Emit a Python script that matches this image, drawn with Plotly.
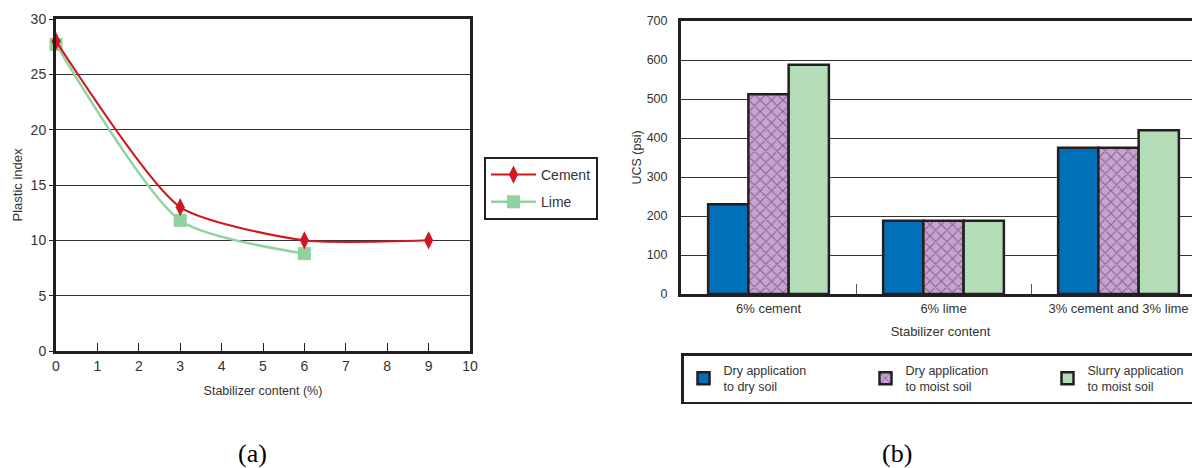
import plotly.graph_objects as go

# ---- (a) Plastic index vs stabilizer content ----
cement_x = [0, 3, 6, 9]
cement_pi = [28, 13, 10, 10]
lime_x = [0, 3, 6]
lime_pi = [27.7, 11.8, 8.8]

# ---- (b) UCS by stabilizer content ----
categories = ["6% cement", "6% lime", "3% cement and 3% lime"]
dry_to_dry = [230, 188, 375]
dry_to_moist = [512, 188, 375]
slurry_to_moist = [588, 188, 420]

# The page body has an 8px margin: the figure starts at (8, 8) in the window
OFF = 8
FW, FH = 1200 - OFF, 468 - OFF
NARROW = "Liberation Sans, Arial, sans-serif"
SANS = "Liberation Sans, Arial, sans-serif"
INK = "#231f20"


def px_x(p):
    return (p - OFF) / FW


def px_y(p):
    return (FH - (p - OFF)) / FH


fig = go.Figure()

fig.add_trace(go.Scatter(
    x=lime_x, y=lime_pi, name="Lime", mode="lines+markers",
    line=dict(color="#8fd3a0", width=2.5, shape="spline", smoothing=0.65),
    marker=dict(symbol="square", size=13, color="#8fd3a0"),
    xaxis="x", yaxis="y", legend="legend", legendgroup="l", legendrank=2,
    cliponaxis=False,
))
fig.add_trace(go.Scatter(
    x=cement_x, y=cement_pi, name="Cement", mode="lines+markers",
    line=dict(color="#d0161f", width=2, shape="spline", smoothing=0.6),
    marker=dict(symbol="diamond-tall", size=13, color="#d0161f"),
    xaxis="x", yaxis="y", legend="legend", legendgroup="c", legendrank=1,
    cliponaxis=False,
))

bar_line = dict(color=INK, width=2.5)
fig.add_trace(go.Bar(
    x=categories, y=dry_to_dry, name="Dry application<br>to dry soil",
    marker=dict(color="#0070b8", line=bar_line),
    xaxis="x2", yaxis="y2", legend="legend2",
))
fig.add_trace(go.Bar(
    x=categories, y=dry_to_moist, name="Dry application<br>to moist soil",
    marker=dict(color="#c9a2d3", line=bar_line,
                pattern=dict(shape="x", fgcolor="#3b2a3c", bgcolor="#c9a2d3",
                             size=8, solidity=0.25, fillmode="overlay")),
    xaxis="x2", yaxis="y2", legend="legend2",
))
fig.add_trace(go.Bar(
    x=categories, y=slurry_to_moist, name="Slurry application<br>to moist soil",
    marker=dict(color="#b4dcb6", line=bar_line),
    xaxis="x2", yaxis="y2", legend="legend2",
))

fig.update_layout(
    width=FW, height=FH,
    margin=dict(l=0, r=0, t=0, b=0, autoexpand=False),
    paper_bgcolor="white", plot_bgcolor="white",
    barmode="group", bargap=0.31, bargroupgap=0.0,
    xaxis=dict(
        domain=[px_x(56), px_x(470)], range=[0, 10], dtick=1, tick0=0,
        showgrid=False, zeroline=False, automargin=False,
        showline=True, linewidth=3, linecolor=INK, mirror=True,
        ticks="inside", ticklen=8, tickwidth=1.2, tickcolor=INK,
        tickfont=dict(family=NARROW, size=14, color="#333"),
        title=dict(text="Stabilizer content (%)", standoff=14,
                   font=dict(family=NARROW, size=12.5, color="#333")),
        anchor="y",
    ),
    yaxis=dict(
        domain=[px_y(351), px_y(19)], range=[0, 30], dtick=5, tick0=0,
        showgrid=True, gridcolor="#333333", gridwidth=1.2, zeroline=False,
        automargin=False,
        showline=True, linewidth=3, linecolor=INK, mirror=True,
        ticks="outside", ticklen=4, tickwidth=1, tickcolor=INK,
        tickfont=dict(family=NARROW, size=14, color="#333"),
        title=dict(text="Plastic index", standoff=6,
                   font=dict(family=NARROW, size=13, color="#333")),
        anchor="x",
    ),
    xaxis2=dict(
        domain=[px_x(681), 1.0],
        range=[-0.5, -0.5 + (OFF + FW - 681) / 175.0],
        type="category", tickson="boundaries", automargin=False,
        showgrid=False, zeroline=False,
        showline=True, linewidth=3, linecolor=INK, mirror=True,
        ticks="inside", ticklen=10, tickwidth=1.2, tickcolor="#555",
        tickfont=dict(family=SANS, size=13, color="#333"),
        title=dict(text="Stabilizer content", standoff=13,
                   font=dict(family=SANS, size=13, color="#333")),
        anchor="y2",
    ),
    yaxis2=dict(
        domain=[px_y(294), px_y(21)], range=[0, 700], dtick=100, tick0=0,
        showgrid=True, gridcolor="#333333", gridwidth=1.2, zeroline=False,
        automargin=False,
        showline=True, linewidth=3, linecolor=INK, mirror=False,
        ticks="", ticklabelstandoff=8,
        tickfont=dict(family=SANS, size=12.5, color="#333"),
        title=dict(text="UCS (psi)", standoff=3,
                   font=dict(family=SANS, size=12.5, color="#333")),
        anchor="x2",
    ),
    legend=dict(
        x=px_x(484), y=px_y(157), xanchor="left", yanchor="top",
        orientation="v", bordercolor=INK, borderwidth=2, bgcolor="white",
        font=dict(family=NARROW, size=14, color="#333"),
        traceorder="grouped", tracegroupgap=6, itemwidth=45,
    ),
    legend2=dict(
        x=px_x(681), y=px_y(353), xanchor="left", yanchor="top",
        orientation="h", bordercolor=INK, borderwidth=2.5, bgcolor="white",
        font=dict(family=SANS, size=12.5, color="#333"),
        entrywidth=137, entrywidthmode="pixels",
    ),
    annotations=[
        dict(text="(a)", x=px_x(252), y=px_y(453), xref="paper", yref="paper",
             xanchor="center", yanchor="middle", showarrow=False,
             font=dict(family="Liberation Serif, serif", size=26, color="black")),
        dict(text="(b)", x=px_x(897), y=px_y(453), xref="paper", yref="paper",
             xanchor="center", yanchor="middle", showarrow=False,
             font=dict(family="Liberation Serif, serif", size=26, color="black")),
    ],
)

fig.write_html("out.html")
